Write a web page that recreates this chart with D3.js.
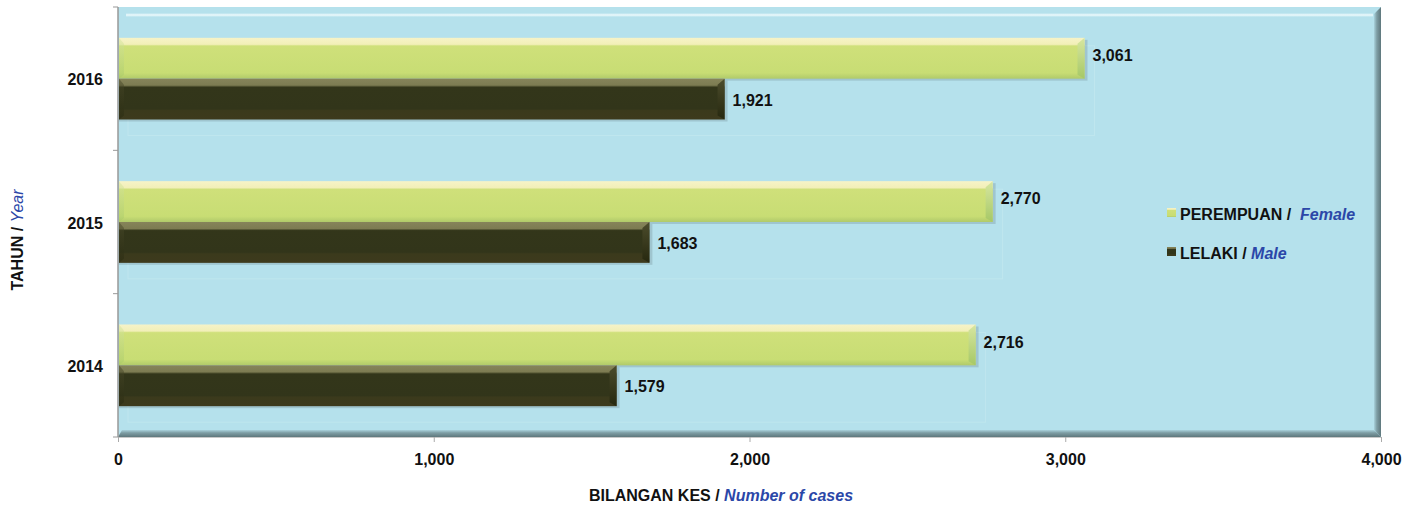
<!DOCTYPE html>
<html>
<head>
<meta charset="utf-8">
<script src="https://cdn.jsdelivr.net/npm/d3@7"></script>
<style>
  body { margin: 0; background: #fff; }
  svg { display: block; font-family: "Liberation Sans", Arial, sans-serif; }
</style>
</head>
<body>
<svg id="chart" width="1413" height="505"></svg>
<script>
// data
const years = ["2016", "2015", "2014"];
const female = [3061, 2770, 2716];
const male = [1921, 1683, 1579];
const seriesNames = ["female", "male"];
const xTicks = [0, 1000, 2000, 3000, 4000];

const svg = d3.select("#chart");
const plotLeft = 118, plotRight = 1381, plotTop = 7, plotBottom = 437;
const fontSize = 16;

const x = d3.scaleLinear().domain([0, 4000]).range([plotLeft, plotRight]);
const y = d3.scaleBand().domain(years).range([plotTop, plotBottom]).paddingInner(0.43).paddingOuter(0.215);
const ySub = d3.scaleBand().domain(seriesNames).range([0, y.bandwidth()]);

const defs = svg.append("defs");
const vgrad = (id, stops) => {
  const g = defs.append("linearGradient").attr("id", id)
    .attr("x1", "0%").attr("x2", "0%").attr("y1", "0%").attr("y2", "100%");
  stops.forEach(([o, c]) => g.append("stop").attr("offset", o).attr("stop-color", c));
};
const hgrad = (id, stops) => {
  const g = defs.append("linearGradient").attr("id", id)
    .attr("x1", "0%").attr("x2", "100%").attr("y1", "0%").attr("y2", "0%");
  stops.forEach(([o, c]) => g.append("stop").attr("offset", o).attr("stop-color", c));
};
vgrad("femaleGrad", [["0%", "#f6f3c8"], ["16%", "#f2efb8"], ["20%", "#cfe07a"], ["86%", "#c8dd74"], ["100%", "#b0ca6a"]]);
vgrad("maleGrad", [["0%", "#86845a"], ["16%", "#7d7c52"], ["21%", "#33361a"], ["74%", "#32351a"], ["78%", "#3b3a1c"], ["100%", "#3d3a1d"]]);
vgrad("femaleEnd", [["0%", "#d7e6a0"], ["100%", "#a6c866"]]);
vgrad("maleEnd", [["0%", "#4c4c2c"], ["100%", "#26280f"]]);
hgrad("panelRight", [["0%", "#a9d2dc"], ["40%", "#7e9ea5"], ["100%", "#5e777c"]]);
vgrad("panelBottom", [["0%", "#a9d2dc"], ["40%", "#7e9ea5"], ["100%", "#5e777c"]]);
vgrad("panelTop", [["0%", "#b5e1ec"], ["40%", "#e2f5f9"], ["60%", "#e2f5f9"], ["100%", "#b5e1ec"]]);

// panel with 3D edges
svg.append("rect").attr("x", plotLeft).attr("y", plotTop).attr("width", plotRight - plotLeft).attr("height", plotBottom - plotTop)
  .attr("fill", "#b5e1ec");
svg.append("rect").attr("x", plotLeft + 8).attr("y", plotTop + 6).attr("width", plotRight - plotLeft - 16).attr("height", 4)
  .attr("fill", "url(#panelTop)");
svg.append("path")
  .attr("d", `M${plotRight - 7},${plotTop + 7} L${plotRight},${plotTop} L${plotRight},${plotBottom} L${plotRight - 7},${plotBottom - 7} Z`)
  .attr("fill", "url(#panelRight)");
svg.append("path")
  .attr("d", `M${plotLeft + 4},${plotBottom - 7} L${plotRight - 7},${plotBottom - 7} L${plotRight},${plotBottom} L${plotLeft},${plotBottom} Z`)
  .attr("fill", "url(#panelBottom)");

// faint depth boxes behind the bar ends
years.forEach((yr, i) => {
  svg.append("rect")
    .attr("x", x(0) + 10).attr("y", y(yr) + 8)
    .attr("width", x(female[i]) - x(0)).attr("height", y.bandwidth() + 8)
    .attr("fill", "none").attr("stroke", "#bfe6ee").attr("stroke-width", 1);
});

// bars
const series = [
  { key: "female", values: female, fill: "url(#femaleGrad)", end: "url(#femaleEnd)", labelShift: -3 },
  { key: "male", values: male, fill: "url(#maleGrad)", end: "url(#maleEnd)", labelShift: 1 }
];
series.forEach((s) => {
  const g = svg.append("g");
  const bars = g.selectAll("g.bar").data(years.map((yr, i) => ({ year: yr, v: s.values[i] })))
    .join("g").attr("class", "bar");
  const h = ySub.bandwidth();
  // soft shadow
  bars.append("rect")
    .attr("x", x(0) + 1).attr("y", (d) => y(d.year) + ySub(s.key) + 2)
    .attr("width", (d) => x(d.v) - x(0) + 2).attr("height", h)
    .attr("fill", "#000").attr("opacity", 0.12);
  bars.append("rect")
    .attr("x", x(0) + 1).attr("y", (d) => y(d.year) + ySub(s.key))
    .attr("width", (d) => x(d.v) - x(0) - 1).attr("height", h)
    .attr("fill", s.fill);
  // bevelled right end
  bars.append("path")
    .attr("d", (d) => {
      const x1 = x(d.v), y0 = y(d.year) + ySub(s.key);
      return `M${x1 - 7},${y0 + 6} L${x1},${y0} L${x1},${y0 + h} L${x1 - 7},${y0 + h - 4} Z`;
    })
    .attr("fill", s.end);
  // bevelled left end
  bars.append("path")
    .attr("d", (d) => {
      const y0 = y(d.year) + ySub(s.key);
      return `M${x(0) + 1},${y0} L${x(0) + 6},${y0 + 6} L${x(0) + 6},${y0 + h - 4} L${x(0) + 1},${y0 + h} Z`;
    })
    .attr("fill", s.end).attr("opacity", 0.5);
  bars.append("text")
    .attr("x", (d) => x(d.v) + 8)
    .attr("y", (d) => y(d.year) + ySub(s.key) + h / 2 + s.labelShift)
    .attr("dy", "0.35em")
    .attr("font-size", fontSize).attr("font-weight", "bold").attr("fill", "#111")
    .text((d) => d3.format(",")(d.v));
});

// axes
const xAxis = svg.append("g").attr("transform", `translate(0,${plotBottom})`)
  .call(d3.axisBottom(x).tickValues(xTicks).tickSize(5).tickPadding(12).tickFormat(d3.format(",")));
xAxis.select(".domain").attr("stroke", "#c8c8c8");
xAxis.selectAll(".tick line").attr("stroke", "#aaa");
xAxis.selectAll("text").attr("font-size", fontSize).attr("font-weight", "bold").attr("fill", "#111")
  .attr("font-family", "Liberation Sans, Arial, sans-serif");

const yTickPos = [plotTop, y.step() + plotTop, y.step() * 2 + plotTop, plotBottom];
svg.append("line").attr("x1", plotLeft).attr("x2", plotLeft).attr("y1", plotTop).attr("y2", plotBottom)
  .attr("stroke", "#999").attr("stroke-width", 1.5);
svg.selectAll("line.ytick").data(yTickPos).join("line").attr("class", "ytick")
  .attr("x1", plotLeft - 5).attr("x2", plotLeft).attr("y1", (d) => d).attr("y2", (d) => d)
  .attr("stroke", "#999");
svg.selectAll("text.ylab").data(years).join("text").attr("class", "ylab")
  .attr("x", plotLeft - 15).attr("y", (d) => y(d) + y.bandwidth() / 2 + 1)
  .attr("dy", "0.35em").attr("text-anchor", "end")
  .attr("font-size", fontSize).attr("font-weight", "bold").attr("fill", "#111")
  .text((d) => d);

// axis titles
const xt = svg.append("text").attr("x", 721).attr("y", 501).attr("text-anchor", "middle")
  .attr("font-size", fontSize).attr("font-weight", "bold").attr("fill", "#111");
xt.append("tspan").text("BILANGAN KES / ");
xt.append("tspan").attr("font-style", "italic").attr("fill", "#2b47a8").text("Number of cases");

const yt = svg.append("text").attr("transform", "translate(23,240) rotate(-90)").attr("text-anchor", "middle")
  .attr("font-size", fontSize).attr("font-weight", "bold").attr("fill", "#111");
yt.append("tspan").text("TAHUN / ");
yt.append("tspan").attr("font-style", "italic").attr("font-weight", "normal").attr("fill", "#2b47a8").text("Year");

// legend
const legendItems = [
  { label: "PEREMPUAN / ", en: " Female", fill: "url(#femaleGrad)" },
  { label: "LELAKI / ", en: "Male", fill: "url(#maleGrad)" }
];
const lg = svg.append("g").attr("transform", "translate(1167,213)");
legendItems.forEach((it, i) => {
  const row = lg.append("g").attr("transform", `translate(0,${i * 39})`);
  row.append("rect").attr("x", 0).attr("y", -5).attr("width", 9).attr("height", 9).attr("fill", it.fill);
  const t = row.append("text").attr("x", 13).attr("y", 1).attr("dy", "0.35em")
    .attr("font-size", fontSize).attr("font-weight", "bold").attr("fill", "#111");
  t.append("tspan").text(it.label);
  t.append("tspan").attr("font-style", "italic").attr("fill", "#2b47a8").attr("xml:space", "preserve").text(it.en);
});
</script>
</body>
</html>
